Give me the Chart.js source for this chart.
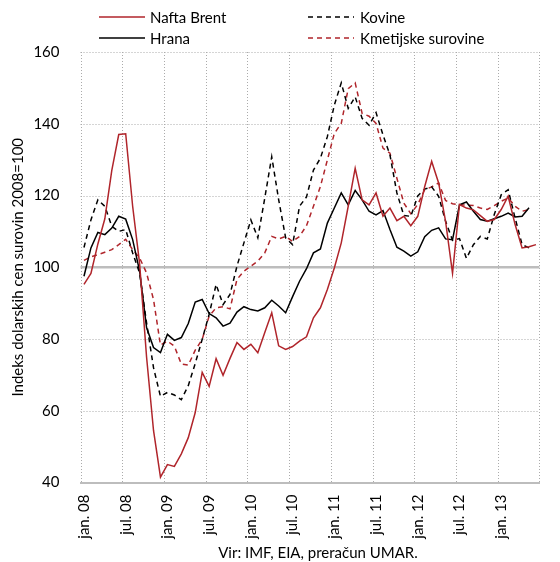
<!DOCTYPE html>
<html>
<head>
<meta charset="utf-8">
<script src="https://cdn.jsdelivr.net/npm/chart.js@4.4.1/dist/chart.umd.min.js"></script>
<style>
  html, body { margin: 0; padding: 0; background: #fff; overflow: hidden; }
  #wrap { position: relative; width: 560px; height: 562px; overflow: hidden; }
  #wrap canvas { position: absolute; left: 0; top: 0; }
  .leg { position: absolute; height: 18px; font: 15px Lato, sans-serif; color: #000; white-space: nowrap; }
  .leg svg { position: absolute; left: 0; top: 0; }
  .leg span { position: absolute; top: 0; line-height: 18px; }
  #caption { position: absolute; left: 318px; top: 543px; transform: translateX(-50%);
             font: 15px Lato, sans-serif; color: #000; line-height: 18px; white-space: nowrap; }
</style>
</head>
<body>
<div id="wrap">
  <canvas id="chart" width="566" height="562"></canvas>
  <div id="legend"></div>
  <div id="caption">Vir: IMF, EIA, preračun UMAR.</div>
</div>
<script>
// mesecni podatki jan. 08 - jun. 13, indeks 2008 = 100
const months = [
  'jan. 08','feb. 08','mar. 08','apr. 08','maj. 08','jun. 08','jul. 08','avg. 08','sep. 08','okt. 08','nov. 08','dec. 08',
  'jan. 09','feb. 09','mar. 09','apr. 09','maj. 09','jun. 09','jul. 09','avg. 09','sep. 09','okt. 09','nov. 09','dec. 09',
  'jan. 10','feb. 10','mar. 10','apr. 10','maj. 10','jun. 10','jul. 10','avg. 10','sep. 10','okt. 10','nov. 10','dec. 10',
  'jan. 11','feb. 11','mar. 11','apr. 11','maj. 11','jun. 11','jul. 11','avg. 11','sep. 11','okt. 11','nov. 11','dec. 11',
  'jan. 12','feb. 12','mar. 12','apr. 12','maj. 12','jun. 12','jul. 12','avg. 12','sep. 12','okt. 12','nov. 12','dec. 12',
  'jan. 13','feb. 13','mar. 13','apr. 13','maj. 13','jun. 13'
];

const naftaBrent = [
  95.2, 98.3, 106.5, 113.5, 127, 137, 137.2, 117, 101, 75, 54.5, 41.5,
  45, 44.5, 48, 52.5, 59.5, 70.7, 66.8, 74.5, 69.9, 74.6, 79, 77.1,
  78.5, 76.2, 81.8, 87.3, 78.1, 77.1, 77.9, 79.4, 80.6, 85.9, 88.7, 93.8,
  99.8, 106.8, 117, 127.6, 118.8, 117.4, 120.7, 114.2, 116.5, 113, 114.2, 111.6,
  114.2, 122.5, 129.5, 123.5, 112.8, 98.3, 117.5, 116.5, 116, 114.4, 112.8, 113.3,
  116.1, 119.8, 111.9, 105.4, 105.7, 106.3
];

const hrana = [
  97.5, 105.4, 109.7, 109.1, 110.9, 114.2, 113.4, 107.7, 98.9, 83.2, 77.6, 76.2,
  81.3, 79.6, 80.4, 84.3, 90.3, 91, 87.1, 85.9, 83.6, 84.4, 87.5, 89,
  88.2, 87.8, 88.7, 90.8, 89.2, 87.3, 91.8, 96.1, 99.6, 104, 105.1, 112.3,
  116.5, 120.7, 117.4, 121.4, 118.8, 115.6, 114.6, 115.8, 110.5, 105.6, 104.5, 103.1,
  104.3, 108.5, 110.3, 111, 107.9, 107.7, 117.4, 118.2, 115.6, 113.3, 112.8, 113.5,
  114.2, 115.1, 114, 114.2, 116.6
];

const kovine = [
  105.5, 113.2, 118.8, 117, 111.4, 110, 110.5, 104, 98.4, 84.5, 72, 64,
  65.1, 64.4, 63.1, 67, 73.2, 79.9, 86.9, 95.2, 89.6, 92.4, 100.3, 106.8,
  113.2, 108.2, 119.3, 130.8, 118.8, 108.2, 106.3, 117, 119.6, 127.1, 130.4, 136.4,
  145.2, 151.4, 144.3, 147.5, 141.5, 139.6, 143.1, 136.9, 131.3, 120.7, 114.4, 114.2,
  119.9, 121.8, 122.4, 119.8, 112.8, 107.5, 108, 102.5, 106.3, 108.6, 107.9, 114.7,
  120.2, 121.6, 113.7, 106.3, 105.4
];

const kmetijske = [
  101.9, 102.9, 103.5, 104.2, 104.9, 106.3, 107.8, 104.9, 102.6, 98.4, 91, 78.3,
  79.4, 78, 73, 72.7, 76.9, 79.9, 86.4, 88.7, 89, 88.4, 96.6, 98.9,
  100.3, 101.7, 104, 108.6, 107.9, 108.6, 107.2, 108.6, 111.6, 117, 122.5, 129.9,
  137.3, 140.1, 149.8, 151.4, 142.9, 142.1, 140.1, 133.2, 131.8, 124.8, 117.9, 114.9,
  117.5, 121.6, 122.4, 123.5, 118.6, 117.7, 117.4, 117.3, 117.2, 116.5, 116.1, 117.2,
  118.4, 119.3, 117, 115.6, 116.1
];

const yTicks = [40, 60, 80, 100, 120, 140, 160];

const RED = '#B0252B';
const BLACK = '#000000';
const GRID = '#ABABAB';
const BASE = '#BDBDBD';
const FONT = 'Lato, sans-serif';

const series = [
  { label: 'Nafta Brent', data: naftaBrent, color: RED, dash: [] },
  { label: 'Kovine', data: kovine, color: BLACK, dash: [5, 4] },
  { label: 'Hrana', data: hrana, color: BLACK, dash: [] },
  { label: 'Kmetijske surovine', data: kmetijske, color: RED, dash: [5, 4] }
];

// legenda v dveh stolpcih
const legendPos = [[99, 8], [308, 8], [99, 29], [308, 29]];
const legend = document.getElementById('legend');
series.forEach((s, i) => {
  const d = document.createElement('div');
  d.className = 'leg';
  d.style.left = legendPos[i][0] + 'px';
  d.style.top = legendPos[i][1] + 'px';
  const dash = s.dash.length ? ` stroke-dasharray="${s.dash.join(' ')}"` : '';
  d.innerHTML = `<svg width="46" height="18"><line x1="0" y1="9" x2="46" y2="9" stroke="${s.color}" stroke-width="1.5"${dash}/></svg>` +
                `<span style="left:${i % 2 ? 52 : 51}px">${s.label}</span>`;
  legend.appendChild(d);
});

// pikcasta mreza (vsakih 6 mesecev) in debelejsa polna crta pri 100
const gridLines = {
  id: 'gridLines',
  beforeDatasetsDraw(chart) {
    const { ctx, chartArea } = chart;
    const xs = chart.scales.x, ys = chart.scales.y;
    ctx.save();
    ctx.strokeStyle = GRID;
    ctx.lineWidth = 1;
    ctx.setLineDash([1, 2]);
    yTicks.forEach(v => {
      if (v === 40 || v === 100) return;
      const y = Math.round(ys.getPixelForValue(v)) + 0.5;
      ctx.beginPath();
      ctx.moveTo(chartArea.left, y);
      ctx.lineTo(chartArea.right, y);
      ctx.stroke();
    });
    for (let k = 0; k <= months.length; k += 6) {
      const x = Math.round(xs.getPixelForValue(k - 0.5)) + 0.5;
      ctx.beginPath();
      ctx.moveTo(x, chartArea.top);
      ctx.lineTo(x, chartArea.bottom);
      ctx.stroke();
    }
    ctx.setLineDash([]);
    const y100 = ys.getPixelForValue(100);
    ctx.strokeStyle = BASE;
    ctx.lineWidth = 2.5;
    ctx.beginPath();
    ctx.moveTo(chartArea.left, y100);
    ctx.lineTo(chartArea.right, y100);
    ctx.stroke();
    ctx.restore();
  }
};

new Chart(document.getElementById('chart'), {
  type: 'line',
  data: {
    labels: months,
    datasets: series.map(s => ({
      label: s.label,
      data: s.data,
      borderColor: s.color,
      borderWidth: 1.5,
      borderDash: s.dash,
      pointRadius: 0,
      tension: 0,
      fill: false
    }))
  },
  options: {
    responsive: false,
    animation: false,
    layout: { padding: { top: 52, right: 3, left: 0, bottom: 0 } },
    plugins: { legend: { display: false }, tooltip: { enabled: false } },
    scales: {
      x: {
        type: 'category',
        offset: true,
        afterFit: (scale) => { scale.height = 79.5; },
        grid: { display: false, drawTicks: false },
        border: { display: true, color: BASE, width: 2 },
        ticks: {
          autoSkip: false,
          minRotation: 90,
          maxRotation: 90,
          padding: 12,
          color: '#000',
          font: { family: FONT, size: 15 },
          callback: (v, i) => (i % 6 === 0 ? months[i] : '')
        }
      },
      y: {
        min: 40,
        max: 160,
        afterFit: (scale) => { scale.width = 80.5; },
        afterBuildTicks: (scale) => { scale.ticks = yTicks.map(v => ({ value: v })); },
        grid: { display: false, drawTicks: false },
        border: { display: false },
        ticks: {
          padding: 21,
          color: '#000',
          font: { family: FONT, size: 15 }
        },
        title: {
          display: true,
          text: 'Indeks dolarskih cen surovin 2008=100',
          color: '#000',
          font: { family: FONT, size: 15 },
          padding: { top: 9, bottom: 0 }
        }
      }
    }
  },
  plugins: [gridLines]
});
</script>
</body>
</html>
